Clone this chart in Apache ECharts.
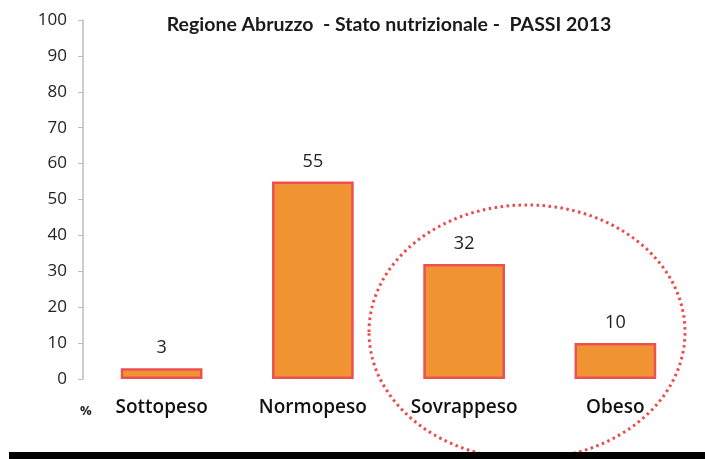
<!DOCTYPE html>
<html><head><meta charset="utf-8">
<script src="https://cdn.jsdelivr.net/npm/echarts@6/dist/echarts.min.js"></script>
<style>html,body{margin:0;padding:0;background:#fff}#c{width:705px;height:459px}</style>
</head><body><div id="c"></div>
<script>
const titleText = 'Regione Abruzzo  - Stato nutrizionale -  PASSI 2013';
const categories = ['Sottopeso', 'Normopeso', 'Sovrappeso', 'Obeso'];
const values = [3, 55, 32, 10];
const yTicks = [0, 10, 20, 30, 40, 50, 60, 70, 80, 90, 100];

const chart = echarts.init(document.getElementById('c'));
chart.setOption({
  backgroundColor: '#fff',
  animation: false,
  title: {
    text: titleText, left: 384, top: 10, textAlign: 'center',
    textStyle: { fontFamily: 'Lato', fontWeight: 700, fontSize: 19.5, color: '#1a1a1a' }
  },
  grid: { left: 86, right: 14, top: 20, bottom: 80 },
  xAxis: {
    type: 'category', data: categories,
    axisLine: { show: false }, axisTick: { show: false },
    axisLabel: { margin: 19, fontFamily: 'Open Sans', fontWeight: 600, fontSize: 19, color: '#111' }
  },
  yAxis: {
    type: 'value', min: yTicks[0], max: yTicks[yTicks.length - 1], interval: 10, offset: 3,
    splitLine: { show: false },
    axisLine: { show: true, lineStyle: { color: '#bbb', width: 1.5 } },
    axisTick: { show: true, length: 5, lineStyle: { color: '#bbb' } },
    axisLabel: { margin: 16, fontFamily: 'Open Sans', fontSize: 17, color: '#222' }
  },
  series: [{
    type: 'bar', data: values, barWidth: '54%',
    itemStyle: { color: '#F09433', borderColor: '#EE5050', borderWidth: 2.5 },
    label: { show: true, position: 'top', distance: 11, fontFamily: 'Open Sans', fontSize: 18, color: '#222' }
  }],
  graphic: [
    { type: 'text', left: 80, top: 405, style: { text: '%', fontFamily: 'Open Sans', fontWeight: 700, fontSize: 13, fill: '#222' } },
    { type: 'rect', shape: { x: 9, y: 452, width: 696, height: 7 }, style: { fill: '#000' }, z: 100 },
    { type: 'ellipse', shape: { cx: 527, cy: 332, rx: 158, ry: 127 },
      style: { fill: 'none', stroke: '#F04848', lineWidth: 3, lineDash: [2.5, 3.5] }, z: 90 }
  ]
});
</script></body></html>
